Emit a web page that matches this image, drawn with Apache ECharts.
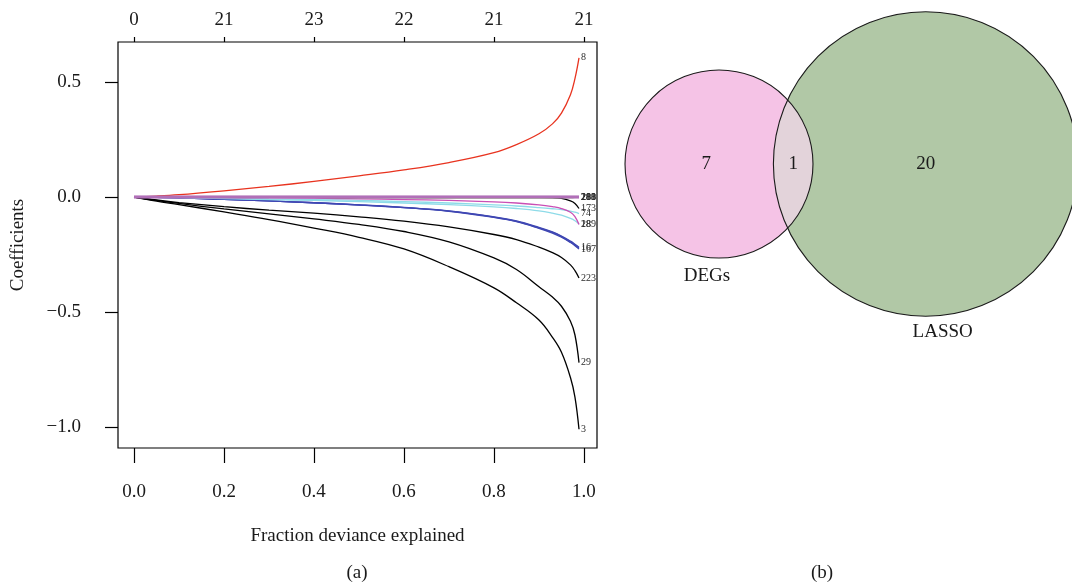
<!DOCTYPE html>
<html>
<head>
<meta charset="utf-8">
<script src="https://cdn.jsdelivr.net/npm/echarts@6/dist/echarts.min.js"></script>
<style>
  html, body { margin: 0; padding: 0; background: #ffffff; }
  #chart { width: 1072px; height: 586px; }
</style>
</head>
<body>
<div id="chart"></div>
<script>
// ---- Coefficient paths (fraction of deviance explained vs coefficient) ----
const fraction = [0, 0.05, 0.1, 0.2, 0.3, 0.4, 0.5, 0.6, 0.7, 0.8, 0.85, 0.9, 0.93, 0.95, 0.97, 0.98, 0.989];

const coef8   = [0, 0.004, 0.01, 0.027, 0.046, 0.068, 0.092, 0.118, 0.15, 0.193, 0.228, 0.275, 0.318, 0.365, 0.445, 0.515, 0.605];
const coef3   = [0, -0.018, -0.033, -0.065, -0.098, -0.135, -0.175, -0.226, -0.303, -0.395, -0.46, -0.535, -0.61, -0.675, -0.785, -0.87, -1.01];
const coef29  = [0, -0.015, -0.028, -0.052, -0.073, -0.095, -0.119, -0.15, -0.195, -0.265, -0.315, -0.39, -0.435, -0.475, -0.54, -0.6, -0.72];
const coef223 = [0, -0.013, -0.024, -0.042, -0.057, -0.07, -0.086, -0.105, -0.13, -0.163, -0.185, -0.218, -0.242, -0.263, -0.295, -0.32, -0.352];
const coef16  = [0, -0.002, -0.004, -0.01, -0.017, -0.025, -0.034, -0.045, -0.06, -0.086, -0.104, -0.132, -0.152, -0.17, -0.192, -0.205, -0.218];
const coef167 = [0, -0.002, -0.004, -0.01, -0.017, -0.025, -0.035, -0.046, -0.062, -0.089, -0.107, -0.136, -0.157, -0.175, -0.198, -0.212, -0.226];
const coef15  = [0, -0.002, -0.004, -0.01, -0.017, -0.025, -0.034, -0.046, -0.061, -0.087, -0.106, -0.134, -0.154, -0.172, -0.195, -0.208, -0.222];
const coef289 = [0, -0.001, -0.001, -0.002, -0.003, -0.005, -0.008, -0.011, -0.015, -0.021, -0.026, -0.034, -0.042, -0.05, -0.066, -0.085, -0.12];
const coef18  = [0, -0.002, -0.003, -0.007, -0.011, -0.015, -0.02, -0.026, -0.033, -0.043, -0.05, -0.06, -0.07, -0.079, -0.093, -0.103, -0.117];
const coef74  = [0, -0.001, -0.002, -0.005, -0.008, -0.011, -0.015, -0.02, -0.026, -0.034, -0.039, -0.046, -0.051, -0.055, -0.061, -0.066, -0.072];
const coef173 = [0, 0, 0, 0, -0.001, -0.001, -0.001, -0.001, -0.001, -0.002, -0.002, -0.002, -0.003, -0.006, -0.017, -0.028, -0.05];
const coef188 = [0, 0, -0.001, -0.001, -0.002, -0.002, -0.003, -0.003, -0.004, -0.004, -0.004, -0.004, -0.004, -0.003, -0.003, -0.002, -0.002];
const coef281 = [0, 0, 0, 0, 0, 0, 0, 0, 0, 0, 0, 0, 0, 0, 0, 0, 0];
const coef200 = [0, 0, 0, 0, 0, 0, 0, 0, 0, 0, 0, 0, 0, 0, 0, 0, 0];
const coef213 = [0, 0, 0, 0, 0, 0, 0, 0, 0, 0, 0, 0, 0, 0, 0, 0, 0];

const bottomTicks = [0, 0.2, 0.4, 0.6, 0.8, 1.0];
const topTickLabels = ['0', '21', '23', '22', '21', '21'];
const yTicks = [-1.0, -0.5, 0.0, 0.5];

// ---- Venn diagram counts ----
const vennSets = ['DEGs', 'LASSO'];
const vennOnly = [7, 20];
const vennShared = 1;

// ---- styling ----
const SERIF = '"Liberation Serif", "DejaVu Serif", serif';
const INK = '#1a1a1a';

const paths = [
  { name: '3',   values: coef3,   color: '#000000' },
  { name: '29',  values: coef29,  color: '#000000' },
  { name: '223', values: coef223, color: '#000000' },
  { name: '173', values: coef173, color: '#000000' },
  { name: '16',  values: coef16,  color: '#3f47b3' },
  { name: '167', values: coef167, color: '#3f47b3' },
  { name: '',    values: coef15,  color: '#3f47b3' },
  { name: '18',  values: coef18,  color: '#8edbe8' },
  { name: '74',  values: coef74,  color: '#8edbe8' },
  { name: '289', values: coef289, color: '#c94fb5' },
  { name: '188', values: coef188, color: '#5cb82f' },
  { name: '8',   values: coef8,   color: '#e8331f' },
  { name: '281', values: coef281, color: '#b16fb8', width: 2.4 },
  { name: '200', values: coef200, color: '#b16fb8', width: 2.4 },
  { name: '213', values: coef213, color: '#b16fb8', width: 2.4 }
];

const lineSeries = paths.map(p => ({
  type: 'line',
  name: p.name,
  xAxisIndex: 0,
  yAxisIndex: 0,
  data: fraction.map((f, i) => [f, p.values[i]]),
  smooth: 0.4,
  showSymbol: false,
  symbol: 'none',
  clip: false,
  lineStyle: { color: p.color, width: p.width || 1.3 },
  endLabel: {
    show: p.name !== '',
    formatter: p.name,
    fontFamily: SERIF,
    fontSize: 10,
    color: '#2a2a2a',
    distance: 2
  },
  emphasis: { disabled: true },
  silent: true
}));

// ---- area-proportional two-set Venn geometry ----
function lensArea(r1, r2, d) {
  if (d >= r1 + r2) return 0;
  if (d <= Math.abs(r1 - r2)) return Math.PI * Math.min(r1, r2) ** 2;
  const a1 = Math.acos((d * d + r1 * r1 - r2 * r2) / (2 * d * r1));
  const a2 = Math.acos((d * d + r2 * r2 - r1 * r1) / (2 * d * r2));
  return r1 * r1 * a1 + r2 * r2 * a2 -
    0.5 * Math.sqrt((-d + r1 + r2) * (d + r1 - r2) * (d - r1 + r2) * (d + r1 + r2));
}
const setTotals = vennOnly.map(n => n + vennShared);
const rA = Math.sqrt(setTotals[0] / Math.PI);
const rB = Math.sqrt(setTotals[1] / Math.PI);
let lo = Math.abs(rA - rB), hi = rA + rB;
for (let k = 0; k < 80; k++) {
  const mid = (lo + hi) / 2;
  if (lensArea(rA, rB, mid) > vennShared) lo = mid; else hi = mid;
}
const dAB = (lo + hi) / 2;

// Venn panel scale (pixels per unit) and placement of the DEGs circle centre
const VENN_PX = 58.9;
const VENN_LEFT = 600, VENN_W = 472, VENN_H = 586;
const VENN_CX = 719, VENN_CY = 164;

function arcPoints(c, r, from, to, n) {
  const pts = [];
  for (let i = 0; i <= n; i++) {
    const t = from + (to - from) * i / n;
    pts.push([c[0] + r * Math.cos(t), c[1] + r * Math.sin(t)]);
  }
  return pts;
}

function renderVenn(params, api) {
  const c1 = api.coord([0, 0]);
  const c2 = api.coord([dAB, 0]);
  const R1 = api.size([rA, 0])[0];
  const R2 = api.size([rB, 0])[0];
  const D = c2[0] - c1[0];
  const a = (D * D + R1 * R1 - R2 * R2) / (2 * D);
  const h = Math.sqrt(R1 * R1 - a * a);
  const t1 = Math.atan2(h, a);
  const t2 = Math.atan2(h, a - D);
  const lens = arcPoints(c1, R1, -t1, t1, 60).concat(arcPoints(c2, R2, t2, 2 * Math.PI - t2, 60));

  const font = '19px ' + SERIF;
  const txt = (x, y, s) => ({
    type: 'text', x, y,
    style: { text: s, font, fill: INK, align: 'center', verticalAlign: 'middle' }
  });
  const onlyAx = (c1[0] - R1 + c1[0] + a) / 2;
  const lensX = (c2[0] - R2 + c1[0] + R1) / 2;

  return {
    type: 'group',
    children: [
      { type: 'circle', shape: { cx: c2[0], cy: c2[1], r: R2 }, style: { fill: '#b1c8a6' } },
      { type: 'circle', shape: { cx: c1[0], cy: c1[1], r: R1 }, style: { fill: '#f5c3e6' } },
      { type: 'polygon', shape: { points: lens }, style: { fill: '#e3d3da' } },
      { type: 'circle', shape: { cx: c2[0], cy: c2[1], r: R2 }, style: { fill: null, stroke: '#1a1a1a', lineWidth: 1.1 } },
      { type: 'circle', shape: { cx: c1[0], cy: c1[1], r: R1 }, style: { fill: null, stroke: '#1a1a1a', lineWidth: 1.1 } },
      txt(onlyAx, c1[1], String(vennOnly[0])),
      txt(lensX, c1[1], String(vennShared)),
      txt(c2[0], c2[1], String(vennOnly[1])),
      txt(c1[0] - 12, c1[1] + R1 + 18, vennSets[0]),
      txt(c2[0] + 17, c2[1] + R2 + 16, vennSets[1])
    ]
  };
}

const vennSeries = {
  type: 'custom',
  coordinateSystem: 'cartesian2d',
  xAxisIndex: 2,
  yAxisIndex: 1,
  data: [[0, 0]],
  renderItem: renderVenn,
  silent: true,
  clip: false
};

const fmtY = v => (v < 0 ? '\u2212' + Math.abs(v).toFixed(1) : v.toFixed(1));
const axisFont = { fontFamily: SERIF, fontSize: 19, color: INK };
const tickLine = { color: '#000', width: 1.2 };

const chart = echarts.init(document.getElementById('chart'), null, { renderer: 'canvas' });
chart.setOption({
  animation: false,
  backgroundColor: '#ffffff',
  grid: [
    { left: 118, top: 42, width: 479, height: 406, show: true, borderColor: '#000', borderWidth: 1.2, backgroundColor: 'transparent' },
    { left: VENN_LEFT, top: 0, width: VENN_W, height: VENN_H, show: false }
  ],
  xAxis: [
    {
      type: 'value', gridIndex: 0, position: 'bottom',
      min: -0.0356, max: 1.029,
      axisLine: { show: false, onZero: false },
      splitLine: { show: false },
      axisTick: { show: true, customValues: bottomTicks, length: 15, lineStyle: tickLine },
      axisLabel: { customValues: bottomTicks, formatter: v => v.toFixed(1), margin: 35, ...axisFont },
      name: 'Fraction deviance explained',
      nameLocation: 'middle',
      nameGap: 79,
      nameTextStyle: { ...axisFont }
    },
    {
      type: 'value', gridIndex: 0, position: 'top',
      min: -0.0356, max: 1.029,
      axisLine: { show: false, onZero: false },
      splitLine: { show: false },
      axisTick: { show: true, customValues: bottomTicks, length: 5, lineStyle: tickLine },
      axisLabel: { customValues: bottomTicks, formatter: v => topTickLabels[Math.round(v / 0.2)], margin: 12, ...axisFont }
    },
    {
      type: 'value', gridIndex: 1, show: false,
      min: (VENN_LEFT - VENN_CX) / VENN_PX,
      max: (VENN_LEFT + VENN_W - VENN_CX) / VENN_PX
    }
  ],
  yAxis: [
    {
      type: 'value', gridIndex: 0,
      min: -1.0913, max: 0.674,
      axisLine: { show: false, onZero: false },
      splitLine: { show: false },
      axisTick: { show: true, customValues: yTicks, length: 13, lineStyle: tickLine },
      axisLabel: { customValues: yTicks, formatter: fmtY, margin: 37, ...axisFont },
      name: 'Coefficients',
      nameLocation: 'middle',
      nameGap: 90,
      nameTextStyle: { ...axisFont }
    },
    {
      type: 'value', gridIndex: 1, show: false,
      min: -(VENN_H - VENN_CY) / VENN_PX,
      max: VENN_CY / VENN_PX
    }
  ],
  graphic: [
    { type: 'text', x: 357, y: 573, style: { text: '(a)', font: '19px ' + SERIF, fill: INK, align: 'center', verticalAlign: 'middle' } },
    { type: 'text', x: 822, y: 573, style: { text: '(b)', font: '19px ' + SERIF, fill: INK, align: 'center', verticalAlign: 'middle' } }
  ],
  series: lineSeries.concat([vennSeries])
});
</script>
</body>
</html>
